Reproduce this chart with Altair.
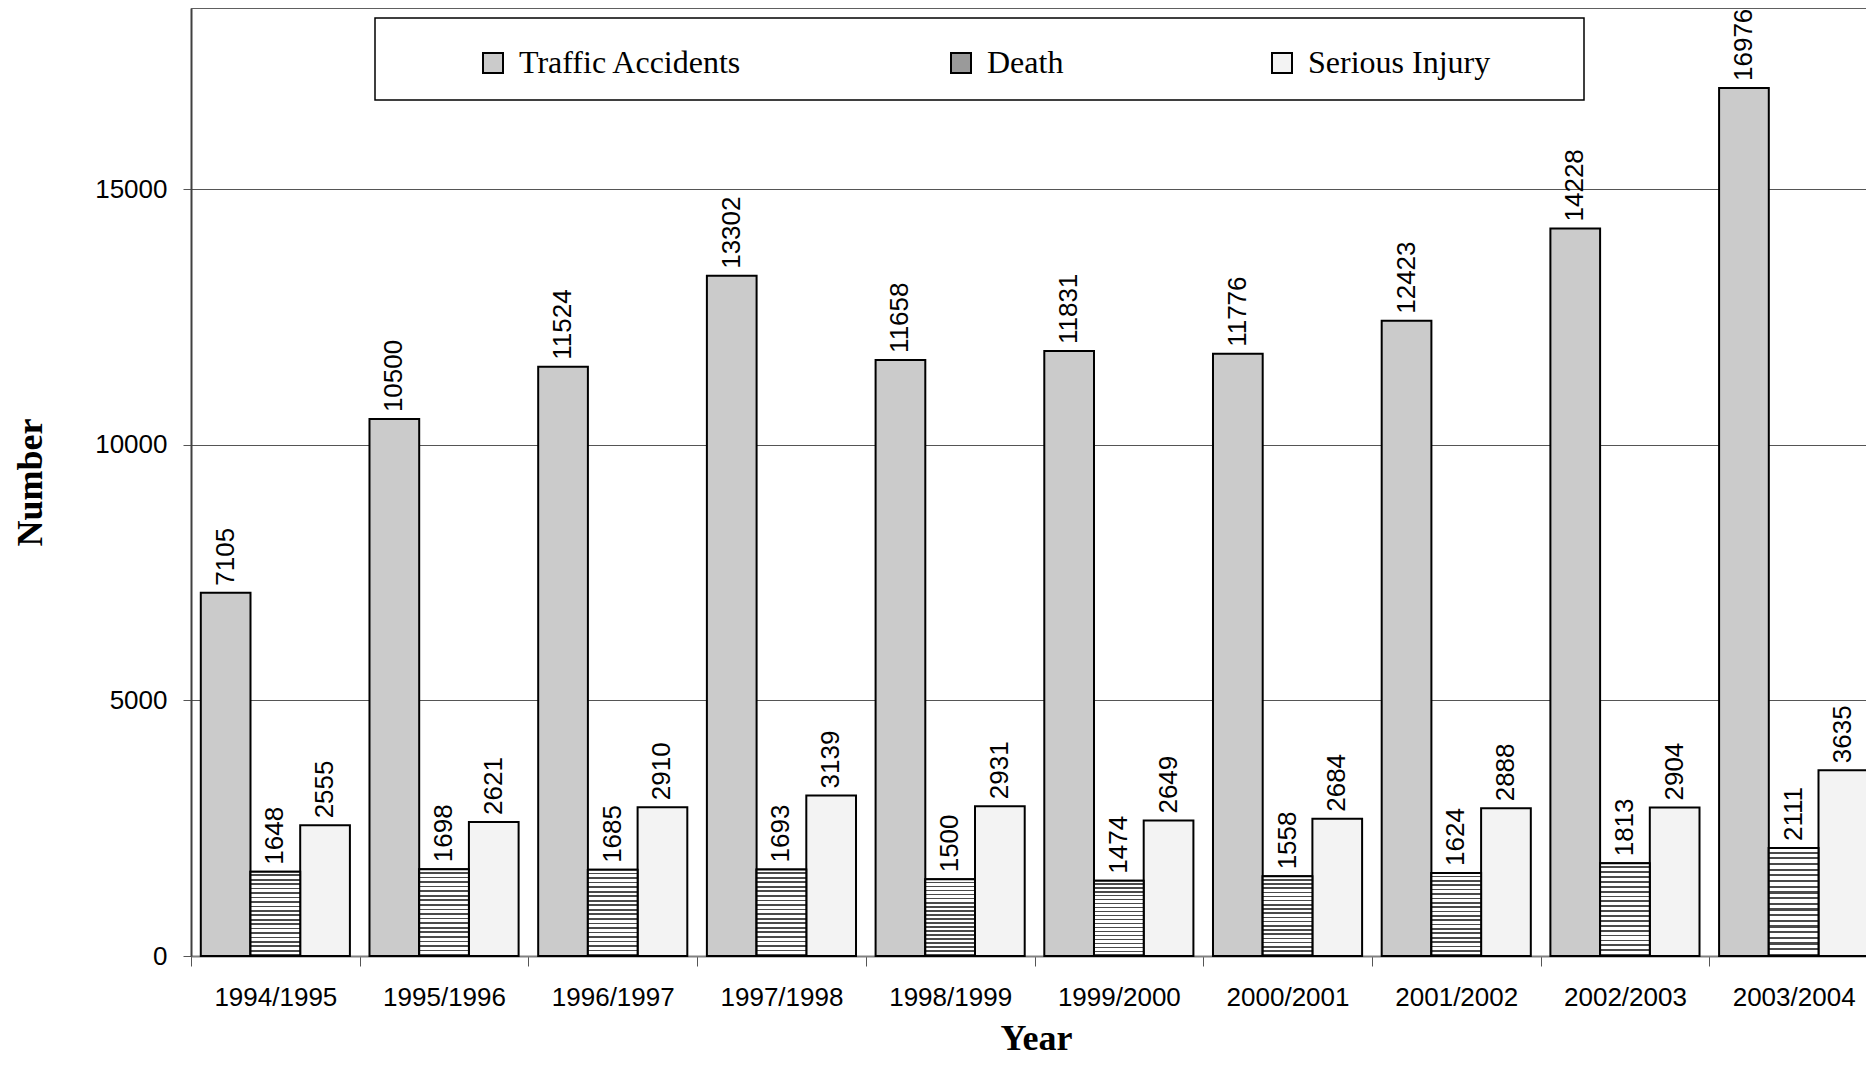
import altair as alt
import pandas as pd

years = ["1994/1995", "1995/1996", "1996/1997", "1997/1998", "1998/1999",
         "1999/2000", "2000/2001", "2001/2002", "2002/2003", "2003/2004"]
series = ["Traffic Accidents", "Death", "Serious Injury"]
traffic = [7105, 10500, 11524, 13302, 11658, 11831, 11776, 12423, 14228, 16976]
death = [1648, 1698, 1685, 1693, 1500, 1474, 1558, 1624, 1813, 2111]
serious = [2555, 2621, 2910, 3139, 2931, 2649, 2684, 2888, 2904, 3635]
fills = ["#cbcbcb", "#9a9a9a", "#f3f3f3"]

rows = []
for i, yr in enumerate(years):
    for s, vals in zip(series, [traffic, death, serious]):
        rows.append({"year": yr, "series": s, "value": vals[i]})
df = pd.DataFrame(rows)

W = 1675
H = 948

x_enc = alt.X(
    "year:N", sort=years,
    scale=alt.Scale(range=[0, 1687], paddingInner=0, paddingOuter=0),
    axis=alt.Axis(
        orient="bottom", labelAngle=0, labelFont="Liberation Sans", labelFontSize=26,
        labelColor="black", labelPadding=18, tickBand="extent", tickSize=10,
        tickColor="#555555", tickWidth=1, domainColor="#808080", domainWidth=2,
        grid=False, titleFont="Liberation Serif", titleFontSize=36,
        titleFontWeight="bold", titleColor="black", titleX=845, titleY=93,
        titleBaseline="alphabetic", titleAlign="center",
    ),
    title="Year",
)
xoff_enc = alt.XOffset(
    "series:N", sort=series,
    scale=alt.Scale(domain=series, paddingInner=0, paddingOuter=0.197),
)
y_enc = alt.Y(
    "value:Q",
    scale=alt.Scale(domain=[0, 18540], nice=False),
    axis=alt.Axis(
        values=[0, 5000, 10000, 15000], format="d", labelFont="Liberation Sans",
        labelFontSize=26, labelColor="black", labelPadding=16, tickSize=8,
        tickColor="#555555", tickWidth=1, domainColor="#404040", domainWidth=2,
        grid=True, gridColor="#555555", gridWidth=1,
        titleFont="Liberation Serif", titleFontSize=36, titleFontWeight="bold",
        titleColor="black", titleX=-161, titleY=474, titleAngle=270,
        titleAlign="center", titleBaseline="middle",
    ),
    title="Number",
)

base = alt.Chart(df)

bars = base.mark_bar(stroke="black", strokeWidth=2).encode(
    x=x_enc, xOffset=xoff_enc, y=y_enc,
    fill=alt.Fill(
        "series:N", sort=series,
        scale=alt.Scale(domain=series, range=fills),
        legend=alt.Legend(
            title=None, orient="none", legendX=286, legendY=39,
            direction="horizontal", symbolType="square", symbolSize=400,
            symbolStrokeColor="black", symbolStrokeWidth=2,
            labelFont="Liberation Serif", labelFontSize=32, labelColor="black",
            labelOffset=10, columnPadding=202, padding=0, labelLimit=500,
        ),
    ),
)

# horizontal-line pattern for Death bars
N = 19
stops = []
for i in range(N):
    a = round(i / N, 4)
    b = round((i + 0.62) / N, 4)
    c = round((i + 1) / N, 4)
    stops += [
        {"offset": a, "color": "#ffffff"},
        {"offset": b, "color": "#ffffff"},
        {"offset": b, "color": "#4a4a4a"},
        {"offset": c, "color": "#4a4a4a"},
    ]
grad = {"gradient": "linear", "x1": 0, "y1": 0, "x2": 0, "y2": 1, "stops": stops}

death_bars = base.transform_filter(alt.datum.series == "Death").mark_bar(
    stroke="black", strokeWidth=2
).encode(x=x_enc, xOffset=xoff_enc, y=y_enc, fill=alt.value(grad))

labels = base.mark_text(
    angle=270, align="left", baseline="middle", dx=7,
    font="Liberation Sans", fontSize=26, color="black",
).encode(x=x_enc, xOffset=xoff_enc, y=y_enc, text=alt.Text("value:Q", format="d"))

one = alt.Chart(pd.DataFrame({"k": [0]}))
top_border = one.mark_rule(color="#606060", strokeWidth=2).encode(
    y=alt.value(0), x=alt.value(0), x2=alt.value(W)
)
legend_box = one.mark_rect(fill="white", stroke="black", strokeWidth=1.5).encode(
    x=alt.value(184), x2=alt.value(1393), y=alt.value(10), y2=alt.value(92)
)

chart = alt.layer(legend_box, bars, death_bars, labels, top_border).properties(
    width=W, height=H,
    padding={"left": 183, "top": 0, "right": 0, "bottom": 100},
    autosize=alt.AutoSizeParams(type="none"),
).configure_view(stroke=None)

chart.save("out.html", embed_options={"renderer": "svg", "actions": False})
